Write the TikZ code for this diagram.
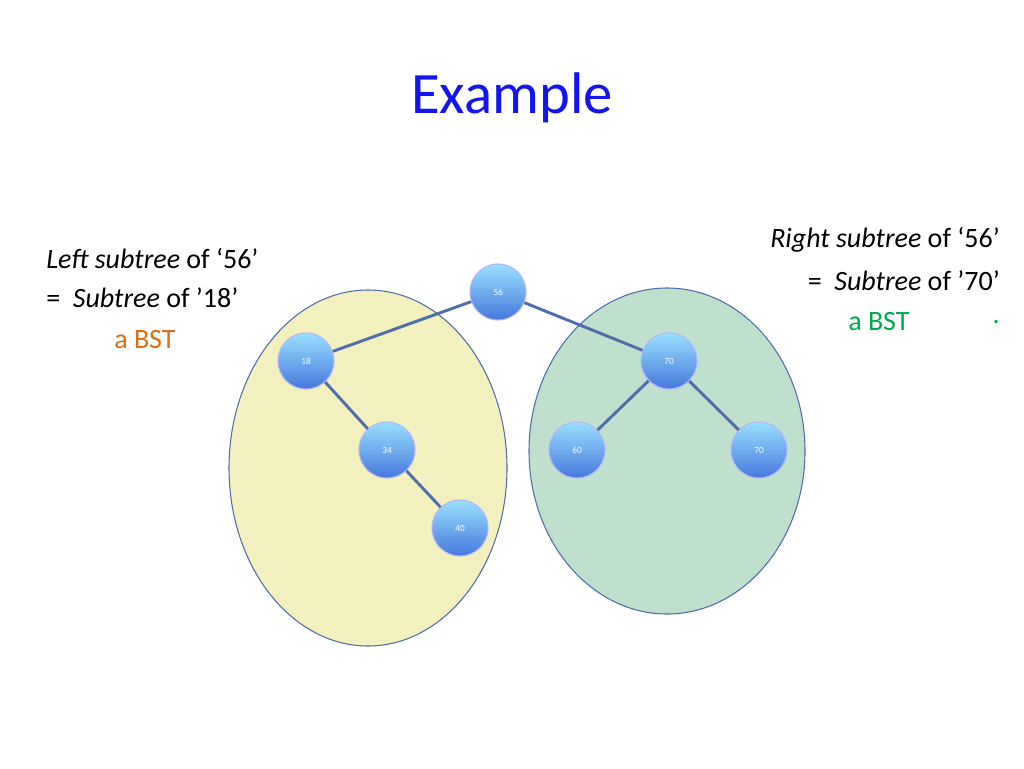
\documentclass[tikz,border=0pt]{standalone}
\usepackage{fontspec}
\setmainfont{Carlito}
\begin{document}
\begin{tikzpicture}[x=0.75pt,y=-0.75pt,
  bn/.style={circle,minimum size=42pt,inner sep=0pt,draw=white!70!blue,line width=0.8pt,
    top color=blue!30!cyan!40!white,bottom color={rgb,255:red,70;green,120;blue,220},
    text=white,font=\fontsize{7}{8}\selectfont},
  ed/.style={draw={rgb,255:red,80;green,110;blue,170},line width=2.2pt},
  txt/.style={font=\fontsize{21}{25}\selectfont,inner sep=0pt}]
\useasboundingbox (0,0) rectangle (1024,768);
\fill[white] (0,0) rectangle (1024,768);
\draw[fill={rgb,255:red,242;green,240;blue,190},draw={rgb,255:red,80;green,110;blue,170},line width=0.8pt] (368,468) ellipse [x radius=139,y radius=178];
\draw[fill={rgb,255:red,190;green,224;blue,205},draw={rgb,255:red,80;green,110;blue,170},line width=0.8pt] (667,451) ellipse [x radius=138,y radius=163];
\node[font=\fontsize{44}{50}\selectfont,text={rgb,255:red,20;green,20;blue,240}] (title) at (512,98) {Example};
\node[bn] (a) at (498,292) {56};
\node[bn] (b) at (306,361) {18};
\node[bn] (c) at (669,361) {70};
\node[bn] (d) at (387,450) {34};
\node[bn] (e) at (577,450) {60};
\node[bn] (f) at (759,450) {70};
\node[bn] (g) at (460,528) {40};
\draw[ed] (a)--(b); \draw[ed] (a)--(c); \draw[ed] (b)--(d); \draw[ed] (d)--(g);
\draw[ed] (c)--(e); \draw[ed] (c)--(f);
\node[txt,anchor=west] (l1) at (46,258) {\textit{Left subtree} of ‘56’};
\node[txt,anchor=west] (l2) at (46,298) {=\ \ \textit{Subtree} of ’18’};
\node[txt,anchor=west,text={rgb,255:red,220;green,110;blue,20}] (l3) at (114,340) {a BST};
\node[txt,anchor=east] (r1) at (1000,240) {\textit{Right subtree} of ‘56’};
\node[txt,anchor=east] (r2) at (1000,281) {=\ \ \textit{Subtree} of ’70’};
\node[txt,anchor=west,text={rgb,255:red,0;green,170;blue,80}] (r3) at (848,322) {a BST};
\node[txt,anchor=east,text={rgb,255:red,0;green,170;blue,80}] (r4) at (1000,322) {.};
\end{tikzpicture}
\end{document}
